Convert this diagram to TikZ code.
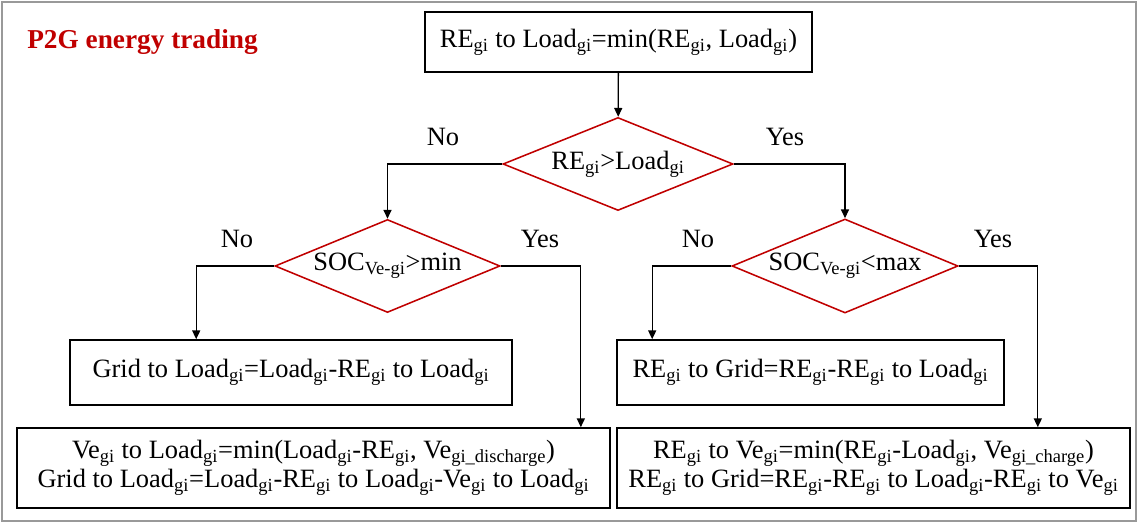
\documentclass[tikz,border=0pt]{standalone}
\usepackage{fontspec}
\setmainfont{Liberation Serif}
\usetikzlibrary{shapes.geometric,arrows.meta}
\definecolor{darkred}{RGB}{192,0,0}
\newcommand{\sbs}[1]{\textsubscript{#1}}
\begin{document}
\begin{tikzpicture}[x=0.025cm, y=-0.025cm, every node/.style={font=\fontsize{18.8}{21}\selectfont},
  box/.style={draw, line width=1.1pt, inner sep=0pt, align=center},
  dec/.style={draw=darkred, line width=1.1pt, shape=diamond, aspect=2.5, inner sep=0pt},
  arr/.style={-{Triangle[length=2.2mm,width=2mm]}, line width=0.9pt}]
  \useasboundingbox (0,0) rectangle (1138,523);
  \draw[gray!80, line width=1.5pt] (2,2) rectangle (1136,521);
  \node[font=\fontsize{19.4}{21}\selectfont\bfseries, text=darkred] (title) at (142.5,42) {P2G energy trading};
  \node[box, minimum width=9.675cm, minimum height=1.5cm] (top) at (618.5,42) {RE\sbs{gi} to Load\sbs{gi}=min(RE\sbs{gi}, Load\sbs{gi})};
  \node[dec, minimum width=5.75cm, minimum height=2.325cm] (d1) at (618,164) {RE\sbs{gi}>Load\sbs{gi}};
  \node[dec, minimum width=5.625cm, minimum height=2.325cm] (d2) at (387.5,266) {SOC\sbs{Ve-gi}>min};
  \node[dec, minimum width=5.65cm, minimum height=2.35cm] (d3) at (845,266) {SOC\sbs{Ve-gi}<max};
  \node[box, minimum width=11.05cm, minimum height=1.625cm] (l1) at (291,372.5) {Grid to Load\sbs{gi}=Load\sbs{gi}-RE\sbs{gi} to Load\sbs{gi}};
  \node[box, minimum width=14.825cm, minimum height=2cm] (l2) at (313.5,468) {Ve\sbs{gi} to Load\sbs{gi}=min(Load\sbs{gi}-RE\sbs{gi}, Ve\sbs{gi\_discharge})\\Grid to Load\sbs{gi}=Load\sbs{gi}-RE\sbs{gi} to Load\sbs{gi}-Ve\sbs{gi} to Load\sbs{gi}};
  \node[box, minimum width=9.675cm, minimum height=1.625cm] (r1) at (810.5,372.5) {RE\sbs{gi} to Grid=RE\sbs{gi}-RE\sbs{gi} to Load\sbs{gi}};
  \node[box, minimum width=12.825cm, minimum height=2cm] (r2) at (873.5,468) {RE\sbs{gi} to Ve\sbs{gi}=min(RE\sbs{gi}-Load\sbs{gi}, Ve\sbs{gi\_charge})\\RE\sbs{gi} to Grid=RE\sbs{gi}-RE\sbs{gi} to Load\sbs{gi}-RE\sbs{gi} to Ve\sbs{gi}};
  % branch labels
  \node (no1) at (443,137) {No};
  \node (yes1) at (785,137) {Yes};
  \node (no2) at (237,239) {No};
  \node (yes2) at (540,239) {Yes};
  \node (no3) at (698,239) {No};
  \node (yes3) at (993,239) {Yes};
  % connectors
  \draw[arr] (top) -- (d1);
  \draw[arr] (d1.west) -| (d2.north);
  \draw[arr] (d1.east) -| (d3.north);
  \draw[arr] (d2.west) -| ([xshift=3.175cm]l1.north west);
  \draw[arr] (d2.east) -| ([xshift=-0.75cm]l2.north east);
  \draw[arr] (d3.west) -| ([xshift=0.9cm]r1.north west);
  \draw[arr] (d3.east) -| ([xshift=-2.325cm]r2.north east);
\end{tikzpicture}
\end{document}
